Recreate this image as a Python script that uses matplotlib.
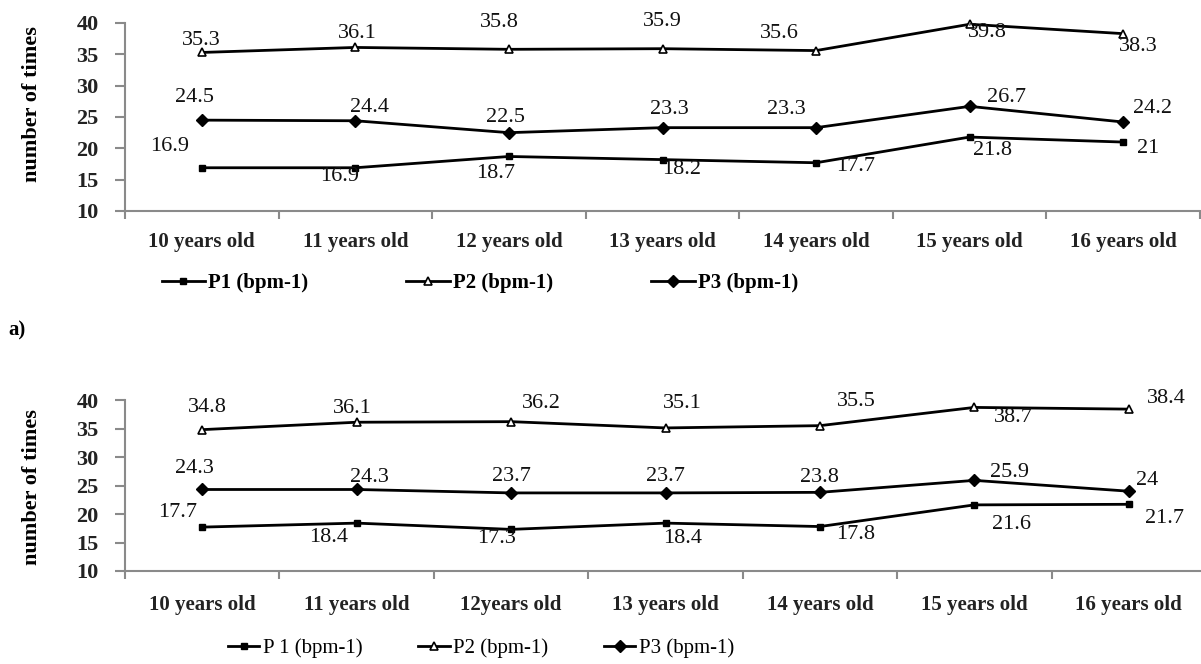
import matplotlib
matplotlib.use("Agg")
import matplotlib.pyplot as plt
from matplotlib.lines import Line2D
import numpy as np

# ---- data ----
ages_top = ["10 years old", "11 years old", "12 years old", "13 years old",
            "14 years old", "15 years old", "16 years old"]
ages_bot = ["10 years old", "11 years old", "12years old", "13 years old",
            "14 years old", "15 years old", "16 years old"]

p1_a = [16.9, 16.9, 18.7, 18.2, 17.7, 21.8, 21.0]
p2_a = [35.3, 36.1, 35.8, 35.9, 35.6, 39.8, 38.3]
p3_a = [24.5, 24.4, 22.5, 23.3, 23.3, 26.7, 24.2]

p1_b = [17.7, 18.4, 17.3, 18.4, 17.8, 21.6, 21.7]
p2_b = [34.8, 36.1, 36.2, 35.1, 35.5, 38.7, 38.4]
p3_b = [24.3, 24.3, 23.7, 23.7, 23.8, 25.9, 24.0]

legend_top = ["P1 (bpm-1)", "P2 (bpm-1)", "P3 (bpm-1)"]
legend_bot = ["P 1 (bpm-1)", "P2 (bpm-1)", "P3 (bpm-1)"]

# label offsets in pixels (dx, dy), dy positive = up
off_p1_a = [(-32, 21), (-16, -9), (-13, -17), (19, -10), (40, -4), (23, -13), (25, -6)]
off_p2_a = [(0, 12), (2, 14), (-10, 27), (0, 27), (-37, 17), (18, -8), (15, -13)]
off_p3_a = [(-7, 23), (14, 13), (-3, 15), (7, 18), (-30, 18), (37, 9), (29, 14)]

off_p1_b = [(-25, 15), (-28, -14), (-15, -9), (17, -15), (36, -8), (37, -20), (36, -14)]
off_p2_b = [(5, 22), (-4, 14), (30, 18), (17, 24), (36, 24), (39, -10), (38, 11)]
off_p3_b = [(-8, 21), (13, 12), (0, 16), (0, 16), (0, 15), (35, 8), (18, 11)]

SERIF = "Liberation Serif"
plt.rcParams["font.family"] = SERIF
GRAY = "#8a8a8a"

fig = plt.figure(figsize=(12.01, 6.64), dpi=100)
W, H = 1201.0, 664.0

STYLES = [
    dict(marker="s", markersize=5, markerfacecolor="black", markeredgecolor="black"),
    dict(marker="^", markersize=6, markerfacecolor="white", markeredgecolor="black",
         markeredgewidth=1.2),
    dict(marker="D", markersize=6, markerfacecolor="black", markeredgecolor="black"),
]


def make_axes(left, right, top, bottom):
    return fig.add_axes([left / W, 1 - bottom / H, (right - left) / W, (bottom - top) / H])


def draw_panel(ax, ticklabels, series, offsets, xpad, ylab_y):
    x = np.arange(len(ticklabels))
    for vals, offs, st in zip(series, offsets, STYLES):
        ax.plot(x, vals, color="black", linewidth=2.0, **st, clip_on=False, zorder=3)
        for xi, v, (dx, dy) in zip(x, vals, offs):
            lab = f"{v:g}"
            ax.annotate(lab, (xi, v), xytext=(dx, dy), textcoords="offset pixels",
                        ha="center", va="center", fontsize=16, color="#111111")
    ax.set_xlim(-0.5, len(ticklabels) - 0.5)
    ax.set_ylim(10, 40)
    ax.set_yticks(np.arange(10, 41, 5))
    ax.set_xticks(np.arange(-0.5, len(ticklabels), 1.0))
    ax.set_xticklabels([])
    ax.set_xticks(x, minor=True)
    ax.set_xticklabels(ticklabels, minor=True, fontsize=15, fontweight="bold",
                       color="#222222")
    ax.tick_params(axis="x", which="minor", length=0, pad=xpad)
    ax.tick_params(axis="x", which="major", length=6, width=1.5, color=GRAY, direction="out")
    ax.tick_params(axis="y", length=7, width=1.5, color=GRAY, direction="out", pad=12,
                   labelsize=16, labelcolor="#222222")
    for t in ax.get_yticklabels():
        t.set_fontweight("bold")
    for s in ("top", "right"):
        ax.spines[s].set_visible(False)
    for s in ("left", "bottom"):
        ax.spines[s].set_color(GRAY)
        ax.spines[s].set_linewidth(1.5)
    ax.set_ylabel("number of times", fontsize=16, fontweight="bold")
    ax.yaxis.set_label_coords(-83 / (ax.get_position().width * W), ylab_y)
    ax.patch.set_alpha(0)


ax1 = make_axes(125, 1200, 23, 211)
draw_panel(ax1, ages_top, [p1_a, p2_a, p3_a], [off_p1_a, off_p2_a, off_p3_a], 15, 0.57)
ax2 = make_axes(125, 1206, 400, 571)
draw_panel(ax2, ages_bot, [p1_b, p2_b, p3_b], [off_p1_b, off_p2_b, off_p3_b], 17, 0.49)


def handles():
    return [Line2D([], [], color="black", linewidth=2.0, **st) for st in STYLES]


fig.legend(handles(), legend_top, loc="center", bbox_to_anchor=(480 / W, 1 - 283 / H),
           ncol=3, frameon=False, handlelength=2.1, columnspacing=4.7, handletextpad=0.15,
           prop={"family": SERIF, "size": 15, "weight": "bold"})
fig.legend(handles(), legend_bot, loc="center", bbox_to_anchor=(481 / W, 1 - 648 / H),
           ncol=3, frameon=False, handlelength=1.5, columnspacing=2.7, handletextpad=0.15,
           prop={"family": SERIF, "size": 15})

fig.text(8 / W, 1 - 330 / H, "a)", fontsize=15, fontweight="bold", ha="left", va="center")

fig.savefig("out.png", dpi=100)
